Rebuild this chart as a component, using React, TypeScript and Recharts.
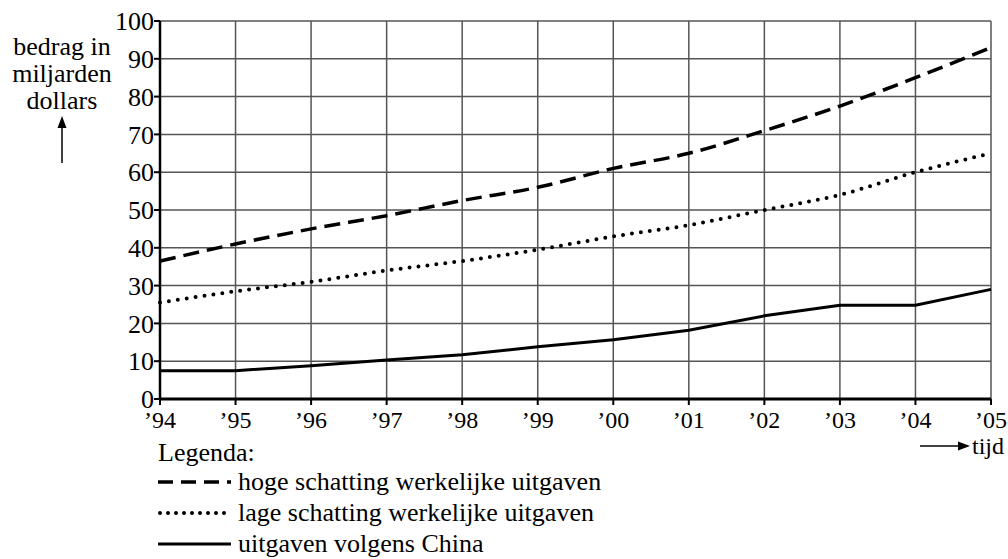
import { LineChart, Line, XAxis, YAxis, CartesianGrid } from 'recharts';

// ---------------------------------------------------------------------------
// Data
// ---------------------------------------------------------------------------

const years = ['’94', '’95', '’96', '’97', '’98', '’99', '’00', '’01', '’02', '’03', '’04', '’05'];

// hoge schatting werkelijke uitgaven
const highEstimate = [36.5, 41, 45, 48.5, 52.5, 56, 61, 65, 71, 77.5, 85, 93];
// lage schatting werkelijke uitgaven
const lowEstimate = [25.5, 28.5, 31, 34, 36.5, 39.5, 43, 46, 50, 54, 60, 65];
// uitgaven volgens China
const chinaReported = [7.5, 7.5, 8.8, 10.3, 11.7, 13.8, 15.7, 18.2, 22, 24.8, 24.8, 29];

const yTicks = [0, 10, 20, 30, 40, 50, 60, 70, 80, 90, 100];

const chartData = years.map((year, i) => ({
  year,
  high: highEstimate[i],
  low: lowEstimate[i],
  china: chinaReported[i],
}));

const FONT = 'Times New Roman, Liberation Serif, Tinos, DejaVu Serif, Times, serif';
const TEXT_SIZE = 26;

const legendItems = [
  { label: 'hoge schatting werkelijke uitgaven', dash: '15 8', width: 3.5, cap: 'butt' },
  { label: 'lage schatting werkelijke uitgaven', dash: '0 8', width: 4, cap: 'round' },
  { label: 'uitgaven volgens China', dash: undefined, width: 3, cap: 'butt' },
];

export default function App() {
  return (
    <div style={{ position: 'absolute', left: 0, top: 0, width: 1008, height: 559, fontFamily: FONT, background: '#fff' }}>
      <LineChart
        width={1008}
        height={559}
        data={chartData}
        margin={{ top: 21, right: 17, bottom: 130, left: 110 }}
      >
        <CartesianGrid stroke="#555" strokeWidth={1.5} />
        <XAxis
          dataKey="year"
          height={30}
          axisLine={{ stroke: '#000', strokeWidth: 3 }}
          tickLine={{ stroke: '#000', strokeWidth: 2 }}
          tickSize={6}
          tick={{ fill: '#000', fontSize: 24, fontFamily: FONT }}
          tickMargin={6}
          interval={0}
        />
        <YAxis
          domain={[0, 100]}
          ticks={yTicks}
          width={50}
          axisLine={{ stroke: '#000', strokeWidth: 2.5 }}
          tickLine={{ stroke: '#000', strokeWidth: 2 }}
          tickSize={6}
          tickMargin={0}
          tick={{ fill: '#000', fontSize: TEXT_SIZE, fontFamily: FONT }}
        />
        <Line
          type="monotone"
          dataKey="high"
          stroke="#000"
          strokeWidth={3.5}
          strokeDasharray="16 8"
          dot={false}
          isAnimationActive={false}
        />
        <Line
          type="monotone"
          dataKey="low"
          stroke="#000"
          strokeWidth={4}
          strokeDasharray="0 9"
          strokeLinecap="round"
          dot={false}
          isAnimationActive={false}
        />
        <Line
          type="linear"
          dataKey="china"
          stroke="#000"
          strokeWidth={3}
          dot={false}
          isAnimationActive={false}
        />
      </LineChart>

      {/* y-axis title with arrow */}
      <div
        style={{
          position: 'absolute', left: 0, top: 33, width: 124,
          textAlign: 'center', fontSize: TEXT_SIZE, lineHeight: '27px', color: '#000',
        }}
      >
        bedrag in<br />miljarden<br />dollars
      </div>
      <svg style={{ position: 'absolute', left: 0, top: 0 }} width={1008} height={559}>
        <line x1={62} y1={163} x2={62} y2={126} stroke="#000" strokeWidth={1.5} />
        <polygon points="62,116 57.5,128 66.5,128" fill="#000" />
        <line x1={920} y1={446} x2={960} y2={446} stroke="#000" strokeWidth={1.5} />
        <polygon points="970,446 958,441.5 958,450.5" fill="#000" />
        <text x={972} y={454} fontSize={24} fontFamily={FONT} fill="#000">tijd</text>

        {/* legend */}
        <text x={158} y={461} fontSize={TEXT_SIZE} fontFamily={FONT} fill="#000">Legenda:</text>
        {legendItems.map((item, i) => {
          const y = 482 + i * 31;
          return (
            <g key={item.label}>
              <line
                x1={i === 1 ? 160 : 158}
                y1={y}
                x2={231}
                y2={y}
                stroke="#000"
                strokeWidth={item.width}
                strokeDasharray={item.dash}
                strokeLinecap={item.cap as 'butt' | 'round'}
              />
              <text x={238} y={y + 8} fontSize={TEXT_SIZE} fontFamily={FONT} fill="#000">{item.label}</text>
            </g>
          );
        })}
      </svg>
    </div>
  );
}
